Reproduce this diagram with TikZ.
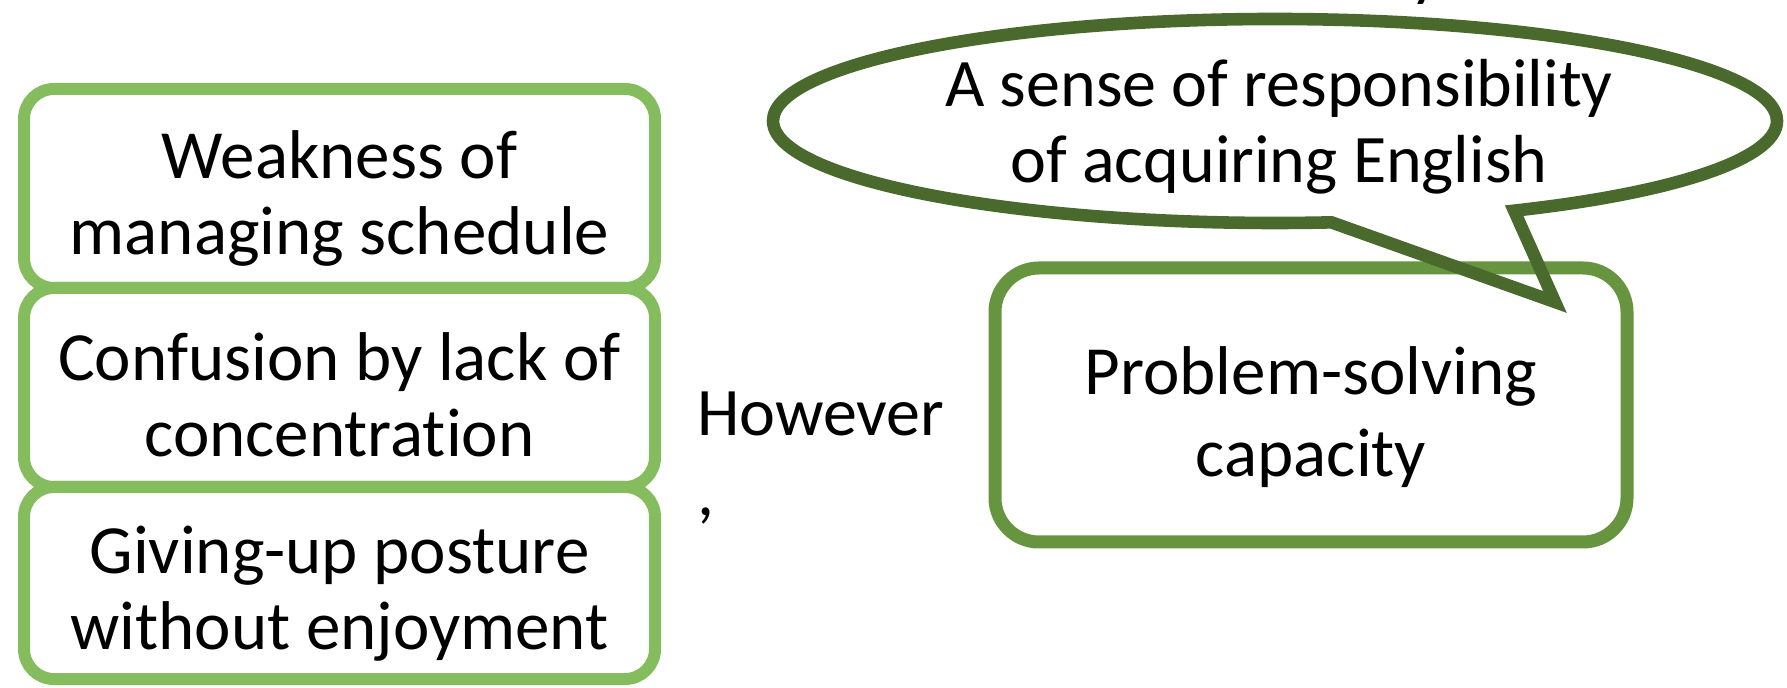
\documentclass[tikz,border=0pt]{standalone}
\usepackage{fontspec}
\setmainfont[Ligatures=NoCommon]{Carlito}
\usetikzlibrary{positioning,shapes.callouts}
\definecolor{boxline}{HTML}{84BC5E}
\definecolor{boxlinealt}{HTML}{67943F}
\definecolor{bubbleline}{HTML}{4A6A2D}
\newcommand{\lift}[1]{\rule{0pt}{#1}}

\begin{document}
\begin{tikzpicture}[
  x=0.5pt, y=-0.5pt,
  lbox/.style={draw=boxline, line width=6pt, rounded corners=15pt, minimum width=315.5pt, minimum height=99.5pt, inner sep=0pt, align=center, font=\fontsize{34.5}{38}\selectfont},
  rbox/.style={draw=boxlinealt, line width=6.5pt, rounded corners=22pt, minimum width=316pt, minimum height=137pt, inner sep=0pt, align=center, font=\fontsize{34.5}{41}\selectfont},
  bubble/.style={ellipse callout, draw=bubbleline, line width=6.3pt, minimum width=502pt, minimum height=102pt, callout pointer arc=22},
  txt/.style={inner sep=0pt, align=center, font=\fontsize{34}{38}\selectfont}
]
  \useasboundingbox (0,0) rectangle (1787,688);

  \node[lbox] (weak) at (339.5,188.5) {\lift{34pt}Weakness of\\managing schedule};
  \node[lbox, below=-6pt of weak] (conf) {\lift{31pt}Confusion by lack of\\concentration};
  \node[lbox, below=-6pt of conf, minimum height=96pt] (give) {\lift{34pt}Giving-up posture\\without enjoyment};

  \node[txt, align=left, anchor=north west, font=\fontsize{34}{40}\selectfont] (however) at (697,391) {However\\,};

  \node[rbox] (solve) at (1311,405) {\lift{36pt}Problem-solving\\capacity};

  \coordinate (tip) at (1555,302);
  \node[bubble, callout absolute pointer={(tip)}] (bubble) at (1275,121) {};
  \node[txt] (resp) at (1279,127) {A sense of responsibility\\of acquiring English};

  \node[txt, anchor=base west] (frag) at (1410,-6) {y};
\end{tikzpicture}
\end{document}
